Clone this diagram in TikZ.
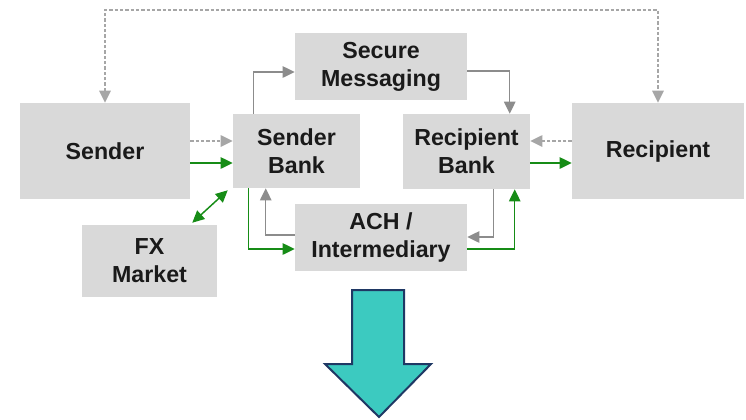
\documentclass[tikz,border=0pt]{standalone}
\usepackage{fontspec}
\setmainfont{Liberation Sans}
\usepackage{tikz}
\usetikzlibrary{arrows.meta,calc}

\definecolor{boxgray}{RGB}{217,217,217}
\definecolor{linegray}{RGB}{140,140,140}
\definecolor{dotgray}{RGB}{166,166,166}
\definecolor{flowgreen}{RGB}{22,140,22}
\definecolor{textdark}{RGB}{26,26,26}
\definecolor{arrowteal}{RGB}{60,202,192}
\definecolor{arrownavy}{RGB}{31,56,100}

\tikzset{
  party/.style 2 args={fill=boxgray, inner sep=0pt, minimum width=#1*0.75pt, minimum height=#2*0.75pt,
    align=center, text=textdark, font=\fontsize{17.4}{21}\selectfont\bfseries},
  tip/.tip={Triangle[length=9pt,width=8.5pt]},
  msgline/.style={draw=linegray, line width=1.1pt, -tip},
  infoline/.style={draw=dotgray, line width=1.2pt, dash pattern=on 2.5pt off 1.5pt, -tip},
  moneyline/.style={draw=flowgreen, line width=1.1pt, -tip},
}

\begin{document}
\begin{tikzpicture}[x=0.75pt,y=0.75pt,yscale=-1,xscale=1]
        \useasboundingbox (0,0) rectangle (746,419);
        %Boxes
        \node[party={170}{96}]  (sender) at (105,151)   {Sender};
        \node[party={127}{74}]  (sbank)  at (296.5,151) {Sender\\Bank};
        \node[party={172}{67}]  (secmsg) at (381,66.5)  {Secure\\Messaging};
        \node[party={127}{75}]  (rbank)  at (466.5,151.5) {Recipient\\Bank};
        \node[party={172}{96}]  (recip)  at (658,151)   {Recipient};
        \node[party={135}{72}]  (fx)     at (149.5,261) {FX\\Market};
        \node[party={172}{67}]  (ach)    at (381,237.5) {ACH /\\Intermediary};
        \coordinate (top) at (0,10);
        %Dotted line over the top
        \draw[infoline, tip-tip]
            (sender.north) -- (sender.north |- top) -- (recip.north |- top) -- (recip.north);
        %Sender side
        \draw[infoline]  ($(sender.east)+(0,-10)$) -- ($(sbank.west)+(0,-10)$);
        \draw[moneyline] ($(sender.east)+(0,12)$) -- ($(sbank.west)+(0,12)$);
        \draw[moneyline, tip-tip]
            ($(fx.north east)+(-25,-2)$) -- ($(sbank.south west)+(-5,2)$);
        %Secure messaging
        \draw[msgline] ($(sbank.north west)+(21,0)$) |- ($(secmsg.west)+(0,5.5)$);
        \draw[msgline] ($(secmsg.east)+(0,4.5)$) -| ($(rbank.north west)+(107,0)$);
        %Recipient side
        \draw[infoline]  ($(recip.west)+(0,-10)$) -- ($(rbank.east)+(0,-10.5)$);
        \draw[moneyline] ($(rbank.east)+(0,11.5)$) -- ($(recip.west)+(0,12)$);
        %ACH loops
        \draw[moneyline] ($(sbank.south west)+(16,0)$) |- ($(ach.west)+(0,11.5)$);
        \draw[msgline]   ($(ach.west)+(0,-2.5)$) -| ($(sbank.south west)+(33,0)$);
        \draw[msgline]   ($(rbank.south west)+(91,0)$) |- ($(ach.east)+(0,-0.5)$);
        \draw[moneyline] ($(ach.east)+(0,11.5)$) -| ($(rbank.south west)+(112,0)$);
        %Shape: Down arrow
        \draw[fill=arrowteal, draw=arrownavy, line width=1.5pt, line join=miter]
            (352,290) -- (404,290) -- (404,364) -- (431,364) -- (379,417) -- (325,364) -- (352,364) -- cycle;
\end{tikzpicture}
\end{document}
